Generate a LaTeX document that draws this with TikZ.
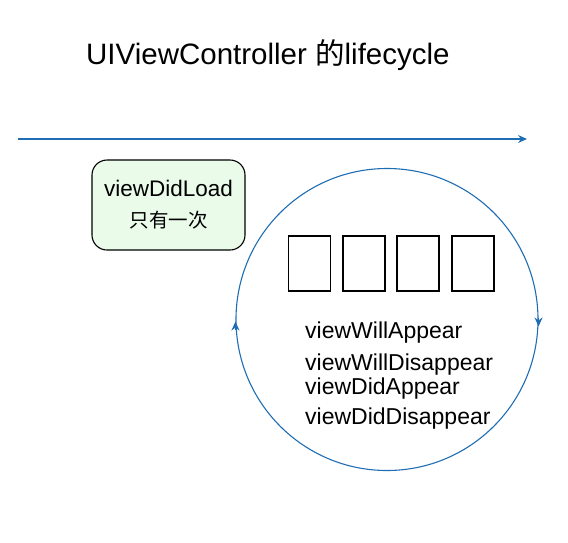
\documentclass[tikz,border=0pt]{standalone}
\usepackage{fontspec}
\setmainfont{Liberation Sans}
\newfontfamily\cjk{Noto Sans CJK SC}
\usetikzlibrary{arrows.meta}
\definecolor{lineblue}{HTML}{1F6EB4}
\definecolor{boxgreen}{HTML}{EAFBEA}
\begin{document}
\begin{tikzpicture}[x=1pt,y=-1pt,
  bluearrow/.style={draw=lineblue,line width=1.2pt,-{Stealth[length=9pt,width=8pt]}},
  tofu/.style={draw=black,line width=1.6pt,minimum width=42pt,minimum height=55pt,inner sep=0pt},
  lbl/.style={font=\fontsize{23}{26}\selectfont,anchor=west,inner sep=0pt},
  loadbox/.style={draw=black,line width=1.1pt,fill=boxgreen,rounded corners=15pt,minimum width=153pt,minimum height=90pt,align=center,font=\fontsize{22.5}{31}\selectfont}]
\useasboundingbox (0,0) rectangle (568,542);
\node[font=\fontsize{29.5}{32}\selectfont,anchor=west,inner sep=0pt] (title) at (86,55) {UIViewController {\cjk 的}lifecycle};
\coordinate (hs) at (18,139);
\coordinate (he) at (527,139);
\draw[bluearrow] (hs) -- (he);
\node[loadbox] (load) at (168.5,205) {viewDidLoad\\{\cjk\fontsize{19.5}{31}\selectfont 只有一次}};
\node[draw=lineblue,line width=1.1pt,circle,minimum size=302pt,inner sep=0pt] (cyc) at (387,319.5) {};
\draw[bluearrow] ([yshift=2pt]cyc.east) -- ([yshift=-7pt]cyc.east);
\draw[bluearrow] ([yshift=-10pt]cyc.west) -- ([yshift=-2pt]cyc.west);
\node[tofu] (t1) at (309.5,263.5) {};
\node[tofu] (t2) at (364,263.5) {};
\node[tofu] (t3) at (418,263.5) {};
\node[tofu] (t4) at (473,263.5) {};
\node[lbl] (l1) at (305,333) {viewWillAppear};
\node[lbl] (l2) at (305,365) {viewWillDisappear};
\node[lbl] (l3) at (305,389) {viewDidAppear};
\node[lbl] (l4) at (305,419) {viewDidDisappear};
\end{tikzpicture}
\end{document}
